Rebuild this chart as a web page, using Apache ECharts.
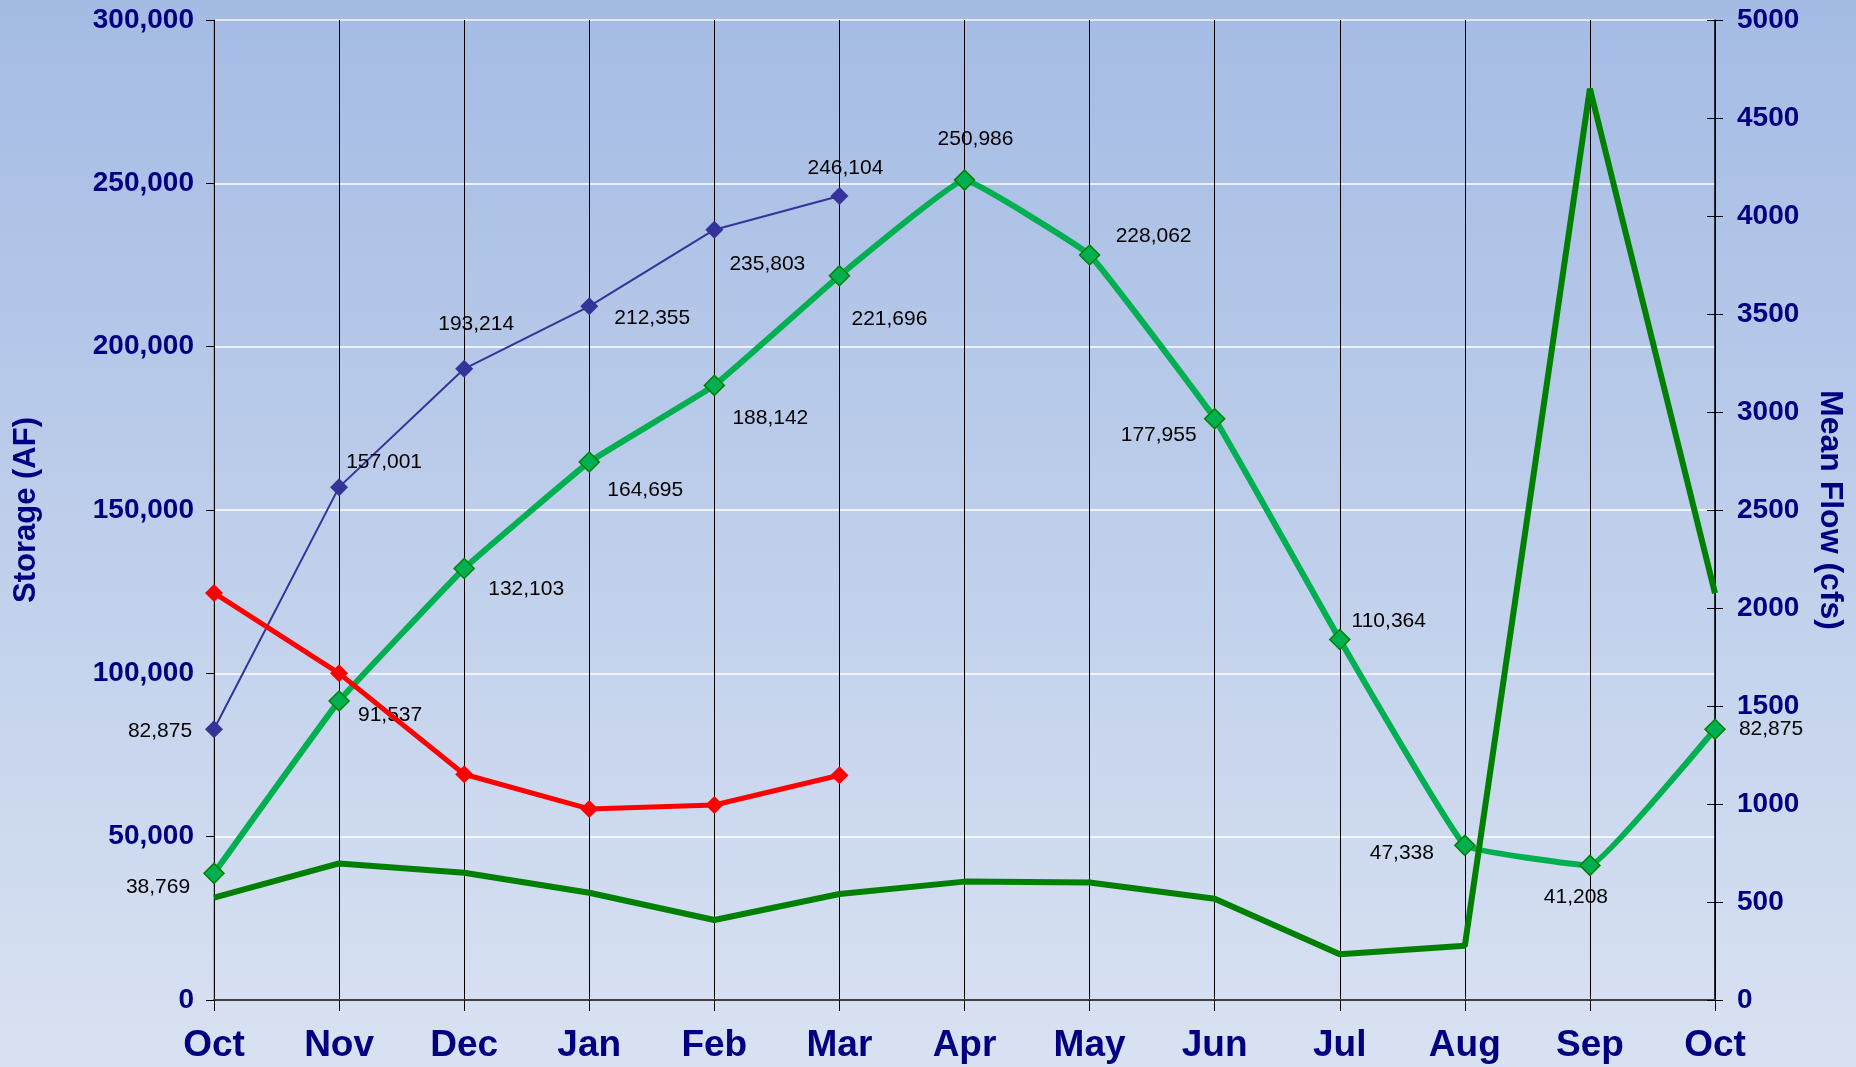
<!DOCTYPE html>
<html>
<head>
<meta charset="utf-8">
<script src="https://cdn.jsdelivr.net/npm/echarts@6/dist/echarts.min.js"></script>
<style>
  html, body { margin: 0; padding: 0; }
  #chart { width: 1856px; height: 1067px; }
</style>
</head>
<body>
<div id="chart"></div>
<script>
// ---- data ----
const months = ['Oct', 'Nov', 'Dec', 'Jan', 'Feb', 'Mar', 'Apr', 'May', 'Jun', 'Jul', 'Aug', 'Sep', 'Oct'];
const storageTicks = [0, 50000, 100000, 150000, 200000, 250000, 300000];
const flowTicks = [0, 500, 1000, 1500, 2000, 2500, 3000, 3500, 4000, 4500, 5000];

const storageCurrent = [82875, 157001, 193214, 212355, 235803, 246104];
const storageAverage = [38769, 91537, 132103, 164695, 188142, 221696, 250986, 228062, 177955, 110364, 47338, 41208, 82875];
const storageRed = [124600, 100000, 69100, 58500, 59700, 68800];
const meanFlow = [522, 697, 649, 547, 408, 541, 604, 600, 517, 233, 277, 4650, 2075];

// ---- label placement (layout, px offsets from point centre) ----
const currentLabelOffsets = [[-54, 2], [45, -25], [12, -45], [63, 12], [53, 34], [6, -28]];
const averageLabelOffsets = [[-56, 14], [51, 14], [62, 21], [56, 28], [56, 33], [50, 43], [11, -41],
                             [64, -19], [-56, 17], [49, -18], [-63, 8], [-14, 32], [56, 0]];

const FONT = '"Liberation Sans", Arial, sans-serif';
const NAVY = '#000080';
const fmt = v => Number(v).toLocaleString('en-US');

function labelled(values, offsets) {
  return values.map((v, i) => ({
    value: v,
    label: { show: true, position: 'inside', offset: offsets[i] }
  }));
}

const chart = echarts.init(document.getElementById('chart'));
const option = {
  animation: false,
  backgroundColor: new echarts.graphic.LinearGradient(0, 0, 0, 1, [
    { offset: 0, color: '#A4BBE4' },
    { offset: 1, color: '#D9E2F2' }
  ]),
  textStyle: { fontFamily: FONT },
  grid: {
    left: 214, right: 141, top: 20, bottom: 67,
    show: true, borderColor: '#808080', borderWidth: 1,
    outerBoundsMode: 'none'
  },
  xAxis: {
    type: 'category',
    data: months,
    boundaryGap: false,
    axisLine: { lineStyle: { color: '#404040', width: 2 } },
    axisTick: { show: true, length: 11, lineStyle: { color: '#000', width: 1 } },
    axisLabel: { color: NAVY, fontWeight: 'bold', fontSize: 37, fontFamily: FONT, margin: 27, interval: 0 },
    splitLine: { show: true, lineStyle: { color: '#000', width: 1 } }
  },
  yAxis: [
    {
      type: 'value',
      position: 'left',
      min: storageTicks[0], max: storageTicks[storageTicks.length - 1], interval: 50000,
      name: 'Storage (AF)',
      nameLocation: 'middle',
      nameRotate: 90,
      nameGap: 172,
      nameTextStyle: { color: NAVY, fontWeight: 'bold', fontSize: 31, fontFamily: FONT },
      axisLine: { show: true, lineStyle: { color: '#000', width: 1 } },
      axisTick: { show: true, length: 8, lineStyle: { color: '#000' } },
      axisLabel: { color: NAVY, fontWeight: 'bold', fontSize: 28, fontFamily: FONT, margin: 20, formatter: fmt },
      splitLine: { show: true, lineStyle: { color: '#FFFFFF', width: 1.5 } }
    },
    {
      type: 'value',
      position: 'right',
      min: flowTicks[0], max: flowTicks[flowTicks.length - 1], interval: 500,
      name: 'Mean Flow (cfs)',
      nameLocation: 'middle',
      nameRotate: -90,
      nameGap: 99,
      nameTextStyle: { color: NAVY, fontWeight: 'bold', fontSize: 32, fontFamily: FONT },
      axisLine: { show: true, lineStyle: { color: '#000', width: 1.5 } },
      axisTick: { show: true, length: 8, lineStyle: { color: '#000' } },
      axisLabel: { color: NAVY, fontWeight: 'bold', fontSize: 28, fontFamily: FONT, margin: 22, formatter: v => String(v) },
      splitLine: { show: false }
    },
    {
      type: 'value',
      position: 'right',
      min: flowTicks[0], max: flowTicks[flowTicks.length - 1], interval: 500,
      axisLine: { show: false },
      axisTick: { show: true, inside: true, length: 8, lineStyle: { color: '#000' } },
      axisLabel: { show: false },
      splitLine: { show: false }
    }
  ],
  series: [
    {
      name: 'Current storage',
      type: 'line',
      yAxisIndex: 0,
      data: labelled(storageCurrent, currentLabelOffsets),
      symbol: 'diamond',
      symbolSize: 18,
      lineStyle: { color: '#333399', width: 2 },
      itemStyle: { color: '#333399' },
      label: { color: '#000', fontSize: 21, fontFamily: FONT, formatter: p => fmt(p.value) },
      z: 2
    },
    {
      name: 'Average storage',
      type: 'line',
      yAxisIndex: 0,
      data: labelled(storageAverage, averageLabelOffsets),
      symbol: 'diamond',
      symbolSize: 20,
      smooth: 0.08,
      lineStyle: { color: '#00B050', width: 6 },
      itemStyle: { color: '#00B050', borderColor: '#008000', borderWidth: 1.5 },
      label: { color: '#000', fontSize: 21, fontFamily: FONT, formatter: p => fmt(p.value) },
      z: 3
    },
    {
      name: 'Red storage',
      type: 'line',
      yAxisIndex: 0,
      data: storageRed,
      symbol: 'diamond',
      symbolSize: 18,
      lineStyle: { color: '#FF0000', width: 5 },
      itemStyle: { color: '#FF0000' },
      z: 4
    },
    {
      name: 'Mean Flow',
      type: 'line',
      yAxisIndex: 1,
      data: meanFlow,
      showSymbol: false,
      symbol: 'none',
      lineStyle: { color: '#008000', width: 6 },
      z: 5
    }
  ]
};
chart.setOption(option);
</script>
</body>
</html>
